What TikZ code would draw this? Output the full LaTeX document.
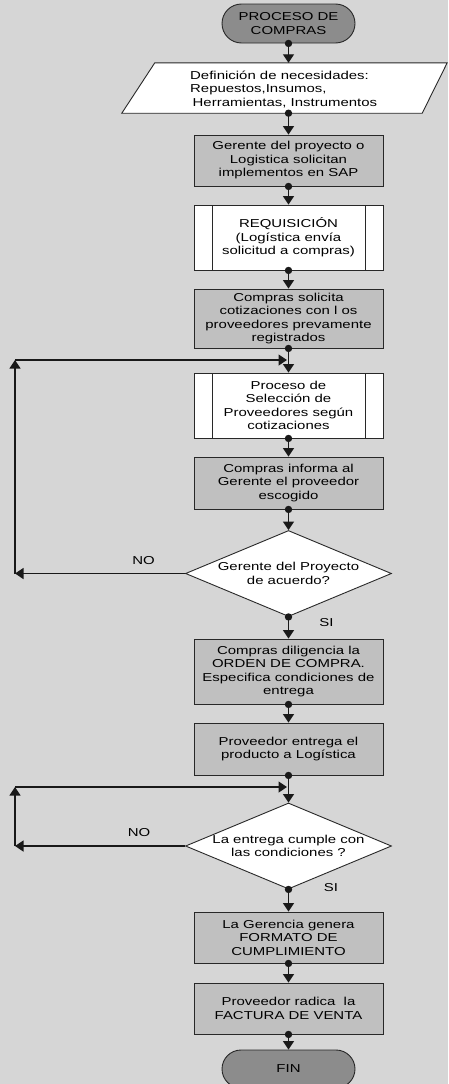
\documentclass[tikz,border=0pt]{standalone}
\usepackage{fontspec}
\setmainfont{Liberation Sans}[FakeStretch=1.3]
\usetikzlibrary{shapes.geometric,shapes.misc,arrows.meta}
\definecolor{bg}{RGB}{214,214,214}
\definecolor{boxgray}{RGB}{192,192,192}
\definecolor{termgray}{RGB}{140,140,140}
\definecolor{edge}{RGB}{40,40,40}
\begin{document}
\begin{tikzpicture}[x=1pt,y=-1pt,
  txt/.style={font=\fontsize{11.5}{13.5}\selectfont, align=center, text=black},
  base/.style={txt, draw=edge, line width=0.9pt, inner sep=2pt},
  proc/.style={base, rectangle, fill=boxgray, minimum width=189pt},
  predef/.style={base, rectangle, fill=white, minimum width=189pt,
    path picture={\draw[edge,line width=0.9pt]
      ([xshift=18pt]path picture bounding box.north west) -- ([xshift=18pt]path picture bounding box.south west)
      ([xshift=-18pt]path picture bounding box.north east) -- ([xshift=-18pt]path picture bounding box.south east);}},
  term/.style={base, rounded rectangle, fill=termgray, minimum width=137pt, minimum height=39pt},
  decision/.style={diamond, draw=edge, line width=0.9pt, fill=white, minimum width=206pt, minimum height=86pt, inner sep=0pt},
  flow/.style={draw=black!90, line width=1.3pt, -{Triangle[width=11pt,length=8.5pt]}},
  dot/.style={fill=black!90}
]
\useasboundingbox[fill=bg] (0,0) rectangle (448,1084);

\node[term] (start) at (288.5,23.5) {PROCESO DE\\COMPRAS};

\node[minimum width=325pt, minimum height=50pt, inner sep=0pt] (def) at (284.5,88) {};
\draw[draw=edge, line width=0.9pt, fill=white]
  ([xshift=33pt]def.north west) -- (def.north east) --
  ([xshift=-25pt]def.south east) -- (def.south west) -- cycle;
\node[txt, align=left, anchor=west, inner sep=0pt] (deftxt) at (190,89)
  {Definición de necesidades:\\Repuestos,Insumos,\\\hspace{2.5pt}Herramientas, Instrumentos};

\node[proc, minimum height=51pt] (b1) at (288.5,160.5) {Gerente del proyecto o\\Logistica solicitan\\implementos en SAP};
\node[predef, minimum height=65pt] (req) at (288.5,237.5) {REQUISICIÓN\\(Logística envía\\solicitud a compras)};
\node[proc, minimum height=59pt] (b3) at (288.5,318.5) {Compras solicita\\cotizaciones con l os\\proveedores prevamente\\registrados};
\node[predef, minimum height=65pt] (sel) at (288.5,405.5) {Proceso de\\Selección de\\Proveedores según\\cotizaciones};
\node[proc, minimum height=52pt] (b5) at (288.5,483) {Compras informa al\\Gerente el proveedor\\escogido};
\node[decision, label={[txt]center:Gerente del Proyecto\\de acuerdo?}] (d1) at (288.5,573.5) {};
\node[proc, minimum height=65pt] (b6) at (288.5,671.5) {Compras diligencia la\\ORDEN DE COMPRA.\\Especifica condiciones de\\entrega};
\node[proc, minimum height=52pt] (b7) at (288.5,749) {Proveedor entrega el\\producto a Logística};
\node[decision, label={[txt]center:La entrega cumple con\\las condiciones ?}] (d2) at (288.5,846) {};
\node[proc, minimum height=51pt] (b8) at (288.5,937.5) {La Gerencia genera\\FORMATO DE\\CUMPLIMIENTO};
\node[proc, minimum height=51pt] (b9) at (288.5,1008.5) {Proveedor radica\ \ la\\FACTURA DE VENTA};
\node[term, minimum height=38pt] (fin) at (288.5,1069) {FIN};

% main flow
\coordinate (deftop) at (start.south |- def.north);
\coordinate (defbot) at (start.south |- def.south);
\draw[flow] (start.south) -- (deftop);
\fill[dot] (start.south) circle (3.7pt);
\draw[flow] (defbot) -- (b1.north);
\fill[dot] (defbot) circle (3.7pt);
\foreach \a/\b in {b1/req, req/b3, b3/sel, sel/b5, b5/d1, d1/b6, b6/b7, b7/d2, d2/b8, b8/b9, b9/fin}{
  \draw[flow] (\a.south) -- (\b.north);
  \fill[dot] (\a.south) circle (3.7pt);
}

% loop 1
\coordinate (n1) at (15,573.5);
\coordinate (n1t) at (15,360);
\coordinate (m1) at (287,360);
\draw[flow] (d1.west) -- (n1);
\draw[flow] (n1) -- (n1t);
\draw[flow] (n1t) -- (m1);
% loop 2
\coordinate (n2) at (15,846);
\coordinate (n2t) at (15,787);
\coordinate (m2) at (287,787);
\draw[flow] (d2.west) -- (n2);
\draw[flow] (n2) -- (n2t);
\draw[flow] (n2t) -- (m2);

\node[txt] (no1) at (143.5,561) {NO};
\node[txt] (si1) at (326.5,622.5) {SI};
\node[txt] (no2) at (139,833) {NO};
\node[txt] (si2) at (331,888) {SI};
\end{tikzpicture}
\end{document}
